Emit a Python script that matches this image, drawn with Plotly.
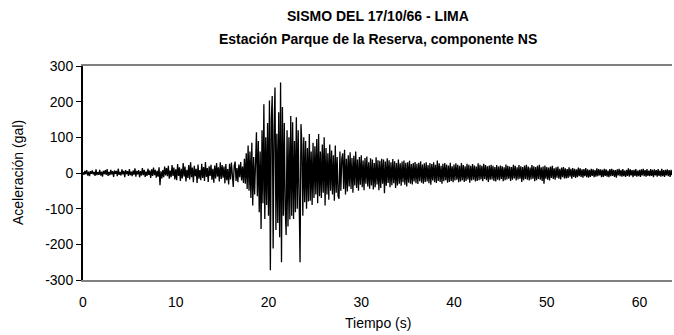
import numpy as np
import plotly.graph_objects as go

# Sampling interval of the record (s)
dt = 0.1

# Acceleration (gal), one row = 1 s
acc_00_10 = [
    2, -5, 6, -3, 8, -7, 4, -9, 5, -2,
    7, -4, 3, -8, 10, -6, 2, -5, 9, -7,
    4, -10, 6, -3, 8, -5, 11, -8, 3, -6,
    9, -4, 5, -11, 7, -2, 6, -9, 12, -5,
    3, -7, 10, -4, 6, -12, 8, -3, 5, -8,
    11, -6, 4, -9, 7, -5, 13, -10, 6, -4,
    8, -12, 5, -7, 14, -6, 9, -11, 4, -8,
    12, -5, 7, -14, 10, -8, 15, -6, 9, -13,
    6, -10, 16, -34, 5, -15, 8, -12, 18, -7,
    14, -9, 20, -16, 7, -12, 22, -8, 15, -18,
]
acc_10_18 = [
    10, -20, 25, -8, 16, -22, 12, -15, 28, -10,
    18, -24, 9, -14, 22, -18, 30, -12, 15, -26,
    20, -9, 12, -28, 24, -16, 8, -20, 26, -14,
    17, -22, 31, -11, 14, -25, 19, -8, 23, -19,
    12, -27, 21, -15, 28, -10, 16, -24, 30, -17,
    22, -13, 18, -29, 25, -20, 11, -32, 26, -18,
    29, -15, -39, 20, 32, -22, 14, -26, 24, -12,
    31, -21, 18, -28, 40, -30, 55, -45, 77, -50,
]
acc_18_30 = [
    60, -70, 85, -91, 45, -60, 80, 114, -65, 90,
    -110, 60, -157, 120, -85, 193, -129, 100, -90, 140,
    -120, 203, -273, 150, 216, -212, 130, 240, -160, 110,
    -140, 170, -180, 254, -250, 185, -120, 140, -100, -174,
    120, -150, 100, -130, 160, -120, 142, -129, 90, -110,
    156, -100, 120, -90, -250, 137, 80, -120, 100, -82,
    90, -100, 70, -80, 109, -78, 60, -90, 85, -70,
    75, -60, 95, -85, 109, -65, 60, -70, 80, -55,
    100, -91, 70, -60, 55, -75, 80, -50, 63, -60,
    50, -78, 77, -55, 45, -65, -72, 60, -50, 40,
    55, -45, 65, -60, 40, -52, 50, -38, 58, -45,
    42, -55, 48, -35, 60, -42, 38, -50, 45, -33,
]
acc_30_45 = [
    50, -40, 35, -48, 42, -30, 46, -38, 30, -44,
    41, -35, 38, -46, 28, -40, 44, -32, 36, -48,
    34, -42, 40, -30, 38, -57, 32, -36, 41, -28,
    36, -40, 30, -34, 39, -29, 33, -42, 28, -35,
    38, -30, 27, -36, 32, -26, 35, -33, 29, -38,
    30, -27, 34, -30, 25, -32, 28, -24, 31, -29,
    26, -31, 29, -23, 33, -27, 24, -30, 27, -25,
    30, -24, 22, -29, 28, -33, 25, -21, 30, -26,
    23, -28, 35, -22, 27, -25, 20, -30, 26, -23,
    28, -20, 24, -27, 21, -25, 29, -22, 19, -26,
    24, -21, 27, -19, 23, -26, 20, -24, 28, -20,
    22, -25, 19, -22, 26, -18, 23, -27, 20, -21,
    25, -19, 21, -24, 18, -22, 27, -20, 23, -18,
    20, -23, 26, -17, 22, -20, 19, -25, 21, -19,
    23, -18, 20, -22, 17, -24, 22, -19, 18, -21,
]
acc_45_end = [
    21, -17, 19, -23, 16, -20, 24, -18, 20, -16,
    18, -22, 17, -19, 23, -15, 20, -21, 16, -18,
    22, -16, 19, -25, 17, -20, 21, -17, 23, -19,
    18, -21, 15, -18, 22, -16, 19, -23, 17, -20,
    20, -17, 23, -19, 16, -22, 18, -30, 21, -16,
    17, -19, 15, -21, 18, -14, 20, -17, 13, -19,
    16, -13, 18, -16, 12, -18, 15, -12, 17, -15,
    13, -15, 11, -14, 16, -10, 12, -16, 14, -11,
    12, -14, 10, -12, 15, -9, 13, -11, 10, -13,
    11, -9, 14, -12, 10, -13, 9, -11, 12, -8,
    10, -12, 8, -10, 13, -9, 11, -7, 10, -12,
    9, -11, 12, -8, 10, -10, 7, -12, 11, -9,
    12, -8, 9, -11, 8, -13, 10, -7, 12, -9,
    8, -10, 11, -9, 7, -11, 9, -8, 13, -10,
    10, -7, 8, -12, 9, -8, 11, -10, 7, -9,
    9, -11, 10, -7, 12, -9, 8, -10, 11, -8,
    7, -9, 11, -8, 9, -12, 10, -7, 8, -10,
    11, -8, 7, -10, 12, -9, 8, -11, 9, -7,
    10, -9, 8, -11, 9, -6,
]

acc = acc_00_10 + acc_10_18 + acc_18_30 + acc_30_45 + acc_45_end
time = np.arange(len(acc)) * dt

x_ticks = [0, 10, 20, 30, 40, 50, 60]
y_ticks = [-300, -200, -100, 0, 100, 200, 300]
y_tick_labels = ["-300", "-200", "-100", "0", "100", "200", "300"]

title_1 = "SISMO DEL 17/10/66 - LIMA"
title_2 = "Estación Parque de la Reserva, componente NS"
x_title = "Tiempo (s)"
y_title = "Aceleración (gal)"

FONT = "Liberation Sans, Arial, sans-serif"
W, H = 674, 335
ML, MR, MT, MB = 83, 2, 66, 55
PH = H - MT - MB

fig = go.Figure()
fig.add_trace(go.Scatter(x=time, y=acc, mode="lines",
                         line=dict(color="black", width=1.3), showlegend=False,
                         hoverinfo="skip"))

fig.update_layout(
    width=W, height=H,
    margin=dict(l=ML, r=MR, t=MT, b=MB),
    paper_bgcolor="white", plot_bgcolor="white",
    font=dict(family=FONT, size=14, color="black"),
    xaxis=dict(range=[0, 63.5], tickvals=x_ticks, showgrid=False, zeroline=False,
               showline=True, linecolor="#808080", linewidth=1.5, mirror=True,
               ticks="outside", ticklen=8, tickcolor="rgba(0,0,0,0)",
               tickfont=dict(size=14), automargin=False),
    yaxis=dict(range=[-300, 300], tickvals=y_ticks, ticktext=y_tick_labels,
               showgrid=False, zeroline=False,
               showline=True, linecolor="black", linewidth=2, mirror=False,
               ticks="outside", ticklen=5, tickcolor="black", tickwidth=1,
               tickfont=dict(size=14), automargin=False),
    annotations=[
        dict(text="<b>%s</b>" % title_1, xref="paper", yref="paper", x=0.5,
             y=(H - 16 - MB) / PH, showarrow=False, font=dict(size=14),
             xanchor="center", yanchor="middle"),
        dict(text="<b>%s</b>" % title_2, xref="paper", yref="paper", x=0.5,
             y=(H - 39 - MB) / PH, showarrow=False, font=dict(size=14),
             xanchor="center", yanchor="middle"),
        dict(text=x_title, xref="paper", yref="paper", x=0.5,
             y=(H - 323 - MB) / PH, showarrow=False, font=dict(size=14),
             xanchor="center", yanchor="middle"),
        dict(text=y_title, xref="paper", yref="paper", x=(18 - ML) / (W - ML - MR),
             y=0.5, showarrow=False, font=dict(size=14), textangle=-90,
             xanchor="center", yanchor="middle"),
    ],
)
fig.write_html("out.html", config={"displayModeBar": False},
               post_script="document.body.style.margin='0';document.body.style.overflow='hidden';")
